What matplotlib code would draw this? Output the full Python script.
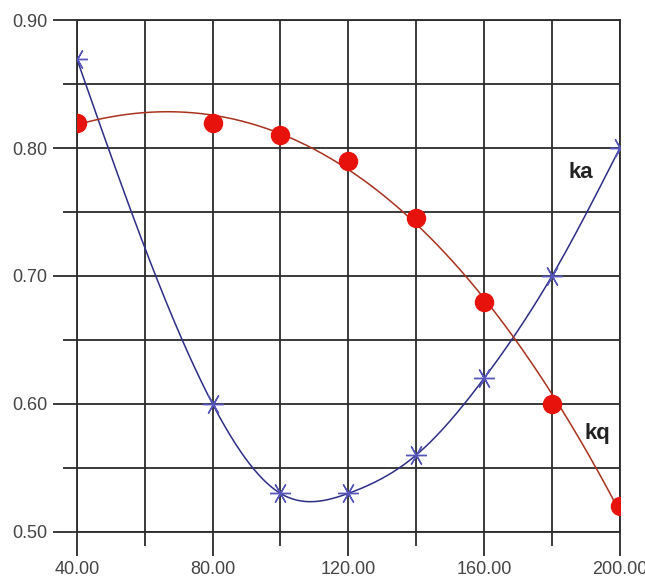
import matplotlib
matplotlib.use("Agg")
import matplotlib.pyplot as plt
import numpy as np

# values
x_vals = [40, 80, 100, 120, 140, 160, 180, 200]
ka_vals = [0.87, 0.60, 0.53, 0.53, 0.56, 0.62, 0.70, 0.80]
kq_vals = [0.82, 0.82, 0.81, 0.79, 0.745, 0.68, 0.60, 0.52]
x_ticks = [40, 80, 120, 160, 200]
y_ticks = [0.50, 0.60, 0.70, 0.80, 0.90]


def natural_spline(x, y, xs):
    # plain natural cubic spline through the points
    x = np.asarray(x, float)
    y = np.asarray(y, float)
    n = len(x)
    h = np.diff(x)
    A = np.zeros((n, n))
    b = np.zeros(n)
    A[0, 0] = A[-1, -1] = 1
    for i in range(1, n - 1):
        A[i, i - 1] = h[i - 1]
        A[i, i] = 2 * (h[i - 1] + h[i])
        A[i, i + 1] = h[i]
        b[i] = 3 * ((y[i + 1] - y[i]) / h[i] - (y[i] - y[i - 1]) / h[i - 1])
    c = np.linalg.solve(A, b)
    out = np.empty_like(xs)
    for k, xv in enumerate(xs):
        i = min(np.searchsorted(x, xv, side='right') - 1, n - 2)
        i = max(i, 0)
        dx = xv - x[i]
        bi = (y[i + 1] - y[i]) / h[i] - h[i] * (2 * c[i] + c[i + 1]) / 3
        di = (c[i + 1] - c[i]) / (3 * h[i])
        out[k] = y[i] + bi * dx + c[i] * dx ** 2 + di * dx ** 3
    return out


plt.rcParams['font.family'] = ['Liberation Sans', 'DejaVu Sans']

fig = plt.figure(figsize=(6.45, 5.78), dpi=100)
ax = fig.add_axes([0.119, 0.080, 0.842, 0.885])

grid_col = '#2b2b2b'
blue = '#2e2e86'
red_line = '#a8321e'

xs = np.linspace(40, 200, 400)
ka_curve = natural_spline(x_vals, ka_vals, xs)
kq_curve = np.polyval(np.polyfit(x_vals, kq_vals, 3), xs)

ax.plot(xs, ka_curve, color=blue, lw=1.1, zorder=3)
ax.plot(xs, kq_curve, color=red_line, lw=1.1, zorder=3)
ax.plot(x_vals, ka_vals, ls='none', marker=(6, 2, 90), ms=15, mec='#5555bb',
        mew=1.0, zorder=4)
ax.plot(x_vals, kq_vals, ls='none', marker='o', ms=13, mfc='#e8120c',
        mec='#e8120c', zorder=4)

ax.text(188.5, 0.781, 'ka', fontsize=16, fontweight='bold', color='#222222',
        ha='center', va='center')
ax.text(193.5, 0.577, 'kq', fontsize=16, fontweight='bold', color='#222222',
        ha='center', va='center')

ax.set_xlim(40, 200)
ax.set_ylim(0.50, 0.90)
ax.set_xticks(x_ticks)
ax.set_xticklabels([f'{v:.2f}' for v in x_ticks])
ax.set_yticks(y_ticks)
ax.set_yticklabels([f'{v:.2f}' for v in y_ticks])
ax.set_xticks(np.arange(60, 200, 40), minor=True)
ax.set_yticks(np.arange(0.55, 0.9, 0.1), minor=True)

ax.grid(True, which='both', color=grid_col, lw=1.3, zorder=1)
ax.tick_params(which='major', length=17, width=1.3, color=grid_col,
               labelsize=13, labelcolor='#444444', pad=4)
ax.tick_params(which='minor', length=10, width=1.3, color=grid_col)
for s in ax.spines.values():
    s.set_color(grid_col)
    s.set_linewidth(1.3)

fig.savefig('out.png', dpi=100)
